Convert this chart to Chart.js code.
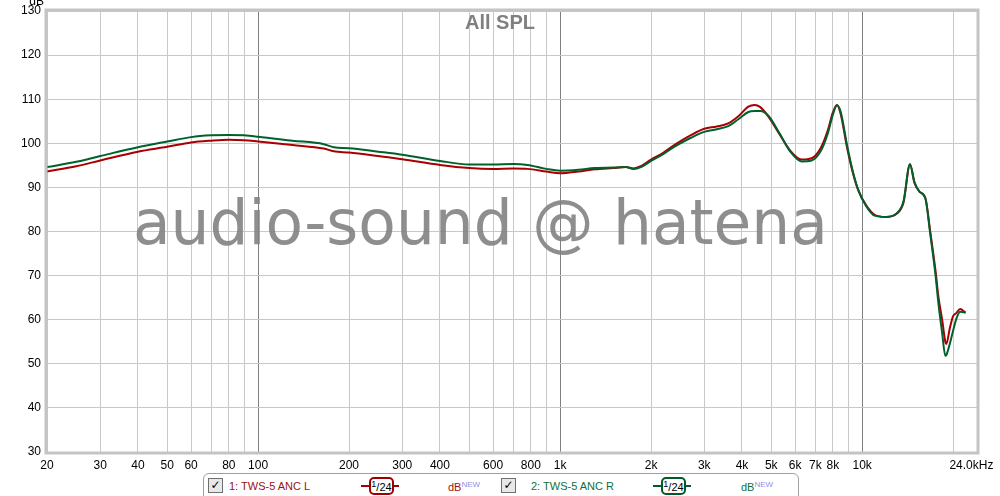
<!DOCTYPE html>
<html>
<head>
<meta charset="utf-8">
<script src="https://cdn.jsdelivr.net/npm/chart.js@4/dist/chart.umd.min.js"></script>
<style>
  html, body { margin: 0; padding: 0; background: #fff; }
  #wrap { position: relative; width: 1000px; height: 496px; overflow: hidden; }
  #chart { position: absolute; left: 0; top: 0; }
  #legend {
    position: absolute; left: 203px; top: 473px; width: 594px; height: 34px;
    border: 1px solid #a0a0a0; border-radius: 6px; background: #fff;
    font-family: "Liberation Sans", Arial, sans-serif; font-size: 11px;
  }
  .cb { position: absolute; top: 4px; width: 13px; height: 13px; border: 1px solid #707070;
        background: #e8e8e8; font: bold 12px "DejaVu Sans"; line-height: 13px; text-align: center; color: #000; }
  .nm { position: absolute; top: 6px; }
  .sym { position: absolute; top: 3px; width: 38px; height: 16px; }
  .sym .ln { position: absolute; left: 0; right: 0; top: 8px; height: 2px; }
  .sym .bx { position: absolute; left: 8px; width: 21px; height: 14px; top: 0; border: 2px solid; border-radius: 5px;
             background: #fff; font-size: 11px; line-height: 16px; text-align: center; color: #000; }
  .sym .bx .one { font-size: 9px; position: relative; top: -4px; }
  .db { position: absolute; top: 6px; }
  .db sup { color: #9090e0; font-size: 8px; vertical-align: 4px; }
</style>
</head>
<body>
<div id="wrap">
  <canvas id="chart" width="1000" height="496"></canvas>
  <div id="legend">
    <div class="cb" style="left:4px">✓</div>
    <div class="nm" style="left:25px;color:#a01010">1: TWS-5 ANC L</div>
    <div class="sym" style="left:157px"><div class="ln" style="background:#a00000"></div><div class="bx" style="border-color:#a00000"><span class="one">1</span>/24</div></div>
    <div class="db" style="left:244px;color:#a01010">dB<sup>NEW</sup></div>
    <div class="cb" style="left:297px">✓</div>
    <div class="nm" style="left:327px;color:#107040">2: TWS-5 ANC R</div>
    <div class="sym" style="left:449px"><div class="ln" style="background:#005a2a"></div><div class="bx" style="border-color:#005a2a"><span class="one">1</span>/24</div></div>
    <div class="db" style="left:537px;color:#107040">dB<sup>NEW</sup></div>
  </div>
</div>
<script>
// Частоты (Гц) и уровни (дБ) двух каналов
const freqs = [20, 25, 30, 40, 50, 60, 70, 80, 90, 100, 130, 165, 178, 200, 250, 300, 400, 500, 600, 700, 780, 900,
  1000, 1150, 1300, 1500, 1650, 1750, 1850, 2000, 2200, 2400, 2700, 3000, 3300, 3600, 3900, 4200, 4400, 4600, 4900,
  5300, 5800, 6300, 6800, 7300, 7700, 8000, 8250, 8500, 8900, 9300, 9700, 10300, 11000, 12000, 13000, 13700, 14400,
  14900, 15500, 16200, 16800, 17500, 17900, 18400, 18850, 19000, 19500, 20000, 20500, 21100, 22000];

const splLeft = [93.6, 94.8, 96.1, 98.1, 99.2, 100.2, 100.6, 100.8, 100.7, 100.4, 99.6, 98.8, 98.2, 97.9, 97.1, 96.4, 95.1, 94.4, 94.2, 94.3, 94.2, 93.6,
  93.2, 93.6, 94.1, 94.4, 94.6, 94.3, 94.8, 96.3, 97.9, 99.7, 101.8, 103.3, 103.8, 104.5, 106.2, 108.3, 108.7, 108.2, 106.0,
  102.3, 98.2, 96.3, 96.6, 99.0, 103.0, 107.0, 108.7, 106.5, 99.2, 93.5, 89.4, 86.0, 83.8, 83.3, 84.0, 86.5, 95.2,
  91.0, 89.0, 87.5, 80.0, 71.0, 65.0, 60.0, 55.0, 54.5, 58.0, 60.8, 61.5, 62.4, 61.6];

const splRight = [94.6, 95.8, 97.1, 99.1, 100.4, 101.4, 101.8, 101.9, 101.8, 101.5, 100.6, 99.8, 99.1, 98.9, 98.1, 97.4, 96.0, 95.2, 95.2, 95.3, 95.1, 94.2,
  93.8, 94.0, 94.4, 94.5, 94.6, 94.2, 94.6, 96.0, 97.6, 99.3, 101.2, 102.6, 103.2, 103.9, 105.5, 107.1, 107.3, 107.3, 106.2,
  102.5, 98.0, 95.9, 96.1, 98.3, 102.3, 106.5, 108.6, 107.0, 99.8, 93.8, 89.5, 85.8, 83.6, 83.3, 84.1, 86.8, 95.3,
  91.2, 89.0, 87.5, 79.5, 70.0, 63.5, 57.0, 51.8, 52.0, 54.5, 57.5, 60.2, 61.8, 61.6];

// Подписи оси X (подпись "24.0kHz" стоит чуть левее правого края, как в оригинале)
const xTickValues = [20, 30, 40, 50, 60, 80, 100, 200, 300, 400, 600, 800, 1000, 2000, 3000, 4000, 5000, 6000, 7000, 8000, 10000, 23000];
const xTickLabels = ['20', '30', '40', '50', '60', '80', '100', '200', '300', '400', '600', '800', '1k', '2k', '3k', '4k', '5k', '6k', '7k', '8k', '10k', '24.0kHz'];

const toPoints = (ys) => freqs.map((f, i) => ({ x: f, y: ys[i] }));

// Сетка: все кратные 1..9 в каждой декаде
function gridTicks() {
  const out = [];
  for (let d = 10; d <= 10000; d *= 10) {
    for (let m = 1; m <= 9; m++) {
      const v = d * m;
      if (v >= 20 && v <= 20000) out.push(v);
    }
  }
  xTickValues.forEach(v => { if (!out.includes(v)) out.push(v); });
  return out.sort((a, b) => a - b).map(v => ({ value: v }));
}

const decorPlugin = {
  id: 'decor',
  beforeDatasetsDraw(chart) {
    const { ctx, chartArea } = chart;
    ctx.save();
    ctx.beginPath();
    ctx.rect(chartArea.left, chartArea.top, chartArea.right - chartArea.left, chartArea.bottom - chartArea.top);
    ctx.clip();
    // водяной знак
    const text = 'audio-sound @ hatena';
    ctx.font = '100px "DejaVu Sans"';
    const w = ctx.measureText(text).width;
    ctx.font = (100 * 695 / w).toFixed(2) + 'px "DejaVu Sans"';
    ctx.fillStyle = 'rgba(130,130,130,0.9)';
    ctx.textBaseline = 'alphabetic';
    ctx.textAlign = 'left';
    ctx.fillText(text, 133, 244);
    // заголовок
    ctx.font = 'bold 20px "Liberation Sans"';
    ctx.fillStyle = '#808080';
    ctx.textAlign = 'center';
    ctx.textBaseline = 'middle';
    ctx.fillText('All SPL', 500, 23);
    ctx.restore();
  },
  afterDraw(chart) {
    const { ctx, chartArea } = chart;
    ctx.save();
    ctx.strokeStyle = '#c4c4c4';
    ctx.lineWidth = 3;
    ctx.strokeRect(chartArea.left - 1, chartArea.top - 1, chartArea.right - chartArea.left + 2, chartArea.bottom - chartArea.top + 2);
    ctx.font = '12px "Liberation Sans"';
    ctx.fillStyle = '#000';
    ctx.textAlign = 'right';
    ctx.textBaseline = 'middle';
    ctx.fillText('dB', 44, 2);
    ctx.restore();
  }
};

new Chart(document.getElementById('chart'), {
  type: 'line',
  data: {
    datasets: [
      { label: '1: TWS-5 ANC L', data: toPoints(splLeft), borderColor: '#a80000', borderWidth: 2, pointRadius: 0, cubicInterpolationMode: 'monotone', order: 1 },
      { label: '2: TWS-5 ANC R', data: toPoints(splRight), borderColor: '#00602e', borderWidth: 2, pointRadius: 0, cubicInterpolationMode: 'monotone', order: 0 }
    ]
  },
  options: {
    responsive: false,
    animation: false,
    layout: { padding: { left: 0, right: 23, top: 11, bottom: 0 } },
    plugins: { legend: { display: false }, tooltip: { enabled: false } },
    scales: {
      x: {
        type: 'logarithmic', min: 20, max: 24000,
        afterBuildTicks: (s) => { s.ticks = gridTicks(); },
        afterFit: (s) => { s.height = 44; s.paddingLeft = 0; s.paddingRight = 0; },
        border: { display: false },
        grid: {
          drawTicks: false,
          color: (c) => {
            const v = c.tick && c.tick.value;
            if (v === 23000) return 'rgba(0,0,0,0)';
            return (v === 100 || v === 1000 || v === 10000) ? '#808080' : '#c8c8c8';
          }
        },
        ticks: {
          autoSkip: false, maxRotation: 0, padding: 6, color: '#000',
          font: { family: 'Liberation Sans', size: 12 },
          callback: (v) => { const i = xTickValues.indexOf(v); return i >= 0 ? xTickLabels[i] : ''; }
        }
      },
      y: {
        min: 30, max: 130,
        afterFit: (s) => { s.width = 47; s.paddingTop = 0; s.paddingBottom = 0; },
        border: { display: false },
        grid: { drawTicks: false, color: '#c8c8c8' },
        ticks: { stepSize: 10, padding: 6, color: '#000', font: { family: 'Liberation Sans', size: 12 } }
      }
    }
  },
  plugins: [decorPlugin]
});
</script>
</body>
</html>
